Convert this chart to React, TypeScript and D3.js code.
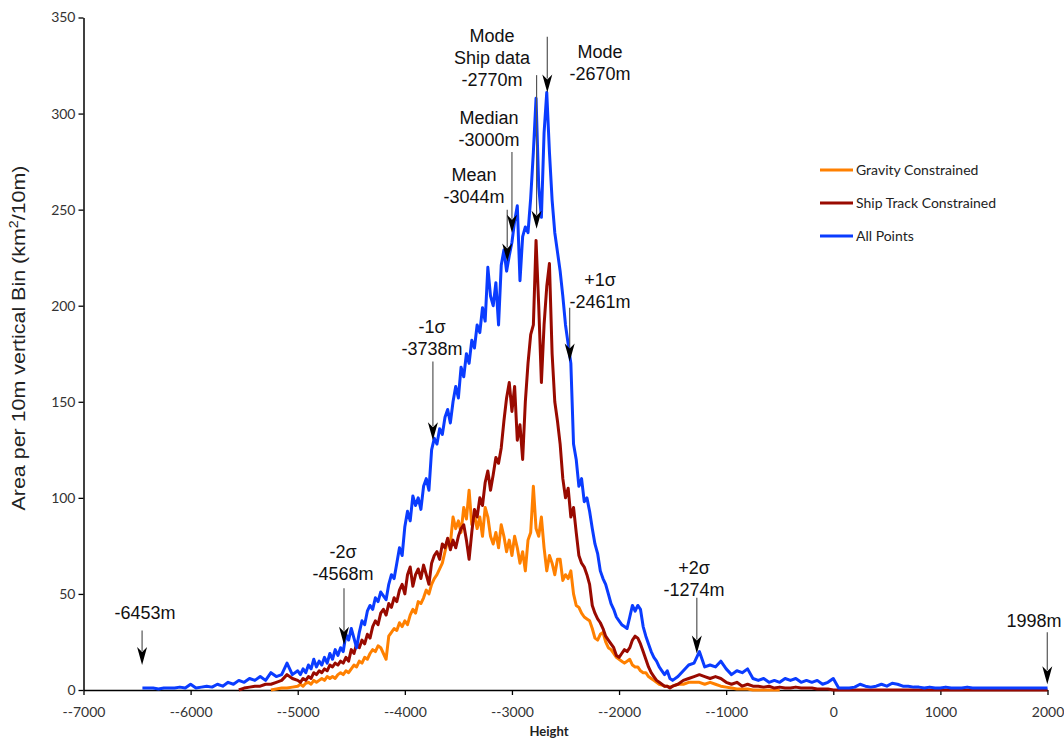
import * as d3 from "d3";
import { useEffect, useRef } from "react";

// height bins (m): coarse on the tails, 25m through the main peak
const binsA = d3.range(-6450, -5000, 50);
const binsB = d3.range(-5000, -1475, 25);
const binsC = d3.range(-1450, 2001, 50);
const heights = [...binsA, ...binsB, ...binsC];

const gravityA = [null,null,null,null,null,null,null,null,null,null,
  null,null,null,null,null,null,null,null,null,null,
  null,null,null,null,0,0.5,1,1,1.5];
const gravityB = [
  2,3,2,3.5,4,3,5,4,5,6,
  5,7,6,7,6,8,9,8,10,9,
  11,13,12,15,14,17,16,19,21,20,
  23,22,19,16,28,30,32,31,35,33,
  36,34,39,42,40,46,45,48,52,50,
  55,58,60,63,66,72,78,76,90,84,
  88,82,95,89,104,86,91,84,90,80,
  95,90,80,76,82,74,86,80,72,78,
  70,80,74,66,72,62,78,82,106,84,
  80,90,74,62,70,66,60,68,68,57,
  60,58,62,50,44,43,40,38,37,36,
  32,27,26,29,30,25,22,21,19,17,
  16,15,14,15,16,13,12,12,10,9,
  9,7,6,5,4,3,2.5,2,2,1.5,
  2];
const gravityC = [
  3,3,4,4,4,3,4,3,2,1.5,
  1,0.5,0.5,0.5,0,0,0,0,0,0,
  null,null,null,null,null,null,null,null,null,null,
  null,null,null,null,null,null,null,null,null,null,
  null,null,null,null,null,null,null,null,null,null,
  null,null,null,null,null,null,null,null,null,null,
  null,null,null,null,null,null,null,null,null,null];

const shipA = [null,null,null,null,null,null,null,null,null,null,
  null,null,null,null,null,null,null,null,0,1,
  1.5,2,2,3,3,4,5,8,6];
const shipB = [
  5,4,6,5,7,6,9,8,10,9,
  11,10,13,12,14,13,15,14,17,15,
  21,19,24,22,26,24,29,27,33,36,
  34,40,42,39,45,43,48,46,52,55,
  50,60,64,54,60,63,58,65,60,55,
  66,70,72,68,76,74,79,73,78,74,
  80,84,86,78,68,82,94,90,100,96,
  108,114,104,112,121,118,126,140,152,160,
  145,158,130,138,120,150,170,185,190,234,
  200,160,190,210,222,175,150,140,128,110,
  100,105,90,95,82,70,66,64,60,55,
  44,40,37,35,32,28,26,24,22,18,
  17,19,21,20,22,26,28,27,24,20,
  16,12,9,7,5,4,3,2,2,1,
  2];
const shipC = [
  3,5,6,7,8,7,6,7,6,4,
  3,4,2,3,2,2,1.5,2,1,1.5,
  1,1,1.5,1,1,1,0.5,0.5,0.5,0,
  0,0,0,0,0,0,0,0,0,0,
  0,0,0,0,0,0,0,0,0,0,
  0,0,0,0,0,0,0,0,0,0,
  0,0,0,0,0,0,0,0,0,0];

const allA = [1,1,1,0.5,1,1,1,1.5,1,3,
  1,1.5,2,1.5,3,2,4,3,5,4,
  6,5,7,5,9,7,8,14,8];
const allB = [
  10,8,11,9,13,11,16,12,15,13,
  17,14,19,16,21,18,22,20,29,26,
  32,27,22,30,36,34,41,44,42,48,
  46,51,49,47,55,60,58,66,74,70,
  85,93,88,101,96,100,94,106,110,104,
  125,131,128,136,133,142,146,139,150,158,
  152,168,163,175,170,182,178,190,186,199,
  192,220,205,200,212,190,221,229,218,226,
  233,244,252,213,236,241,238,256,280,308,
  262,246,290,311,280,255,238,228,218,205,
  190,180,170,128,120,106,110,98,100,93,
  84,76,71,62,58,55,50,45,42,38,
  36,34,33,32,38,44,41,44,42,33,
  28,24,20,17,15,12,10,8,10,6,
  5];
const allC = [
  7,10,13,14,20,12,13,12,15,11,
  8,10,9,11,6,5,6,4,5,4,
  6,5,6,4,5,4,5,3,4,6,
  1,1,1,1.5,3,2,1.5,2,3,2,
  3.5,3,2,2,1.5,1.5,1,1.5,1,1,
  1.5,1,1,1,1.5,1,1,1,1,1,
  1,1,1,1,1,1,1,1,1,1];

const gravity = [...gravityA, ...gravityB, ...gravityC];
const ship = [...shipA, ...shipB, ...shipC];
const allPoints = [...allA, ...allB, ...allC];

const seriesNames = ["Gravity Constrained", "Ship Track Constrained", "All Points"];
const seriesColors = ["#ff8000", "#990a00", "#0a3cff"];
const seriesValues = [gravity, ship, allPoints];

const xTicks = [-7000, -6000, -5000, -4000, -3000, -2000, -1000, 0, 1000, 2000];
const xTickLabels = ["--7000", "--6000", "--5000", "--4000", "--3000", "--2000", "--1000", "0", "1000", "2000"];
const yTicks = [0, 50, 100, 150, 200, 250, 300, 350];

// annotated heights and their labels
const markHeights = [-6453, -4568, -3738, -3044, -3000, -2770, -2670, -2461, -1274, 1998];
const markLabels = [
  ["-6453m"],
  ["-2σ", "-4568m"],
  ["-1σ", "-3738m"],
  ["Mean", "-3044m"],
  ["Median", "-3000m"],
  ["Mode", "Ship data", "-2770m"],
  ["Mode", "-2670m"],
  ["+1σ", "-2461m"],
  ["+2σ", "-1274m"],
  ["1998m"],
];
// arrow start / tip (in y units) and label anchor (px)
const markLayout = [
  { from: 31, to: 13, cx: 145, ty: 619 },
  { from: 53, to: 23.5, cx: 343, ty: 558 },
  { from: 171, to: 130, cx: 432, ty: 333 },
  { from: 250, to: 223, cx: 474, ty: 181 },
  { from: 280, to: 238, cx: 489, ty: 124 },
  { from: 320, to: 240, cx: 492, ty: 42 },
  { from: 340, to: 311, cx: 600, ty: 58 },
  { from: 199, to: 171, cx: 600, ty: 286 },
  { from: 48, to: 19, cx: 694, ty: 574 },
  { from: 30, to: 3, cx: 1034, ty: 627 },
];

const App = () => {
  const svgRef = useRef(null);

  useEffect(() => {
    const w = 1064;
    const h = 738;
    const svg = d3.select(svgRef.current).attr("width", w).attr("height", h);
    svg.selectAll("*").remove();

    const x = d3.scaleLinear().domain([-7000, 2000]).range([83.5, 1047.5]);
    const y = d3.scaleLinear().domain([0, 350]).range([690, 17.5]);

    const tickFont = "Lato, 'Open Sans', sans-serif";

    // axes
    const yAxis = d3.axisLeft(y).tickValues(yTicks).tickSize(5).tickSizeOuter(0).tickPadding(3);
    const gy = svg.append("g").attr("transform", "translate(83.5,0)").call(yAxis);
    gy.attr("font-family", tickFont).attr("font-size", 14);
    gy.select(".domain").attr("stroke", "#000").attr("stroke-width", 1.5);
    gy.selectAll(".tick line").attr("stroke", "#000").attr("stroke-width", 1.3);
    gy.selectAll(".tick text").attr("fill", "#333");

    const xAxis = d3.axisBottom(x).tickValues(xTicks).tickSize(5).tickSizeOuter(0).tickPadding(12)
      .tickFormat((d, i) => xTickLabels[i]);
    const gx = svg.append("g").attr("transform", "translate(0,690)").call(xAxis);
    gx.attr("font-family", tickFont).attr("font-size", 14);
    gx.select(".domain").attr("stroke", "#000").attr("stroke-width", 1.5);
    gx.selectAll(".tick line").attr("stroke", "#000").attr("stroke-width", 1.3);
    gx.selectAll(".tick text").attr("fill", "#333");

    svg.append("text")
      .attr("x", 549).attr("y", 736)
      .attr("text-anchor", "middle")
      .attr("font-family", tickFont).attr("font-weight", "bold").attr("font-size", 13)
      .attr("fill", "#222")
      .text("Height");

    const yt = svg.append("text")
      .attr("transform", "translate(25,338) rotate(-90)")
      .attr("text-anchor", "middle")
      .attr("font-family", "'Liberation Sans', Arial, sans-serif").attr("font-size", 18)
      .attr("textLength", 345).attr("lengthAdjust", "spacingAndGlyphs")
      .attr("fill", "#222");
    yt.append("tspan").text("Area per 10m vertical Bin (km");
    yt.append("tspan").attr("dy", -7).attr("font-size", 12).text("2");
    yt.append("tspan").attr("dy", 7).text("/10m)");

    // series
    const line = d3.line()
      .defined((d) => d[1] != null)
      .x((d) => x(d[0]))
      .y((d) => y(d[1]))
      .curve(d3.curveLinear);

    seriesValues.forEach((vals, k) => {
      const pts = heights.map((hh, i) => [hh, vals[i]]);
      svg.append("path")
        .datum(pts)
        .attr("d", line)
        .attr("fill", "none")
        .attr("stroke", seriesColors[k])
        .attr("stroke-width", 3)
        .attr("stroke-linejoin", "round");
    });

    // legend
    const lg = svg.append("g").attr("font-family", tickFont).attr("font-size", 14);
    seriesNames.forEach((name, k) => {
      const ly = 170 + k * 33;
      lg.append("line").attr("x1", 820).attr("x2", 853).attr("y1", ly).attr("y2", ly)
        .attr("stroke", seriesColors[k]).attr("stroke-width", 3);
      lg.append("text").attr("x", 856).attr("y", ly + 5).attr("fill", "#222").text(name);
    });

    // annotations
    const ann = svg.append("g");
    markHeights.forEach((mh, k) => {
      const lay = markLayout[k];
      const ax = x(mh);
      const y0 = y(lay.from);
      const y1 = y(lay.to);
      const headLen = 18;
      const headW = 5;
      ann.append("line")
        .attr("x1", ax).attr("x2", ax).attr("y1", y0).attr("y2", y1 - headLen + 4)
        .attr("stroke", "#555").attr("stroke-width", 1.2);
      ann.append("path")
        .attr("d", `M${ax},${y1} L${ax - headW},${y1 - headLen} L${ax},${y1 - headLen + 5} L${ax + headW},${y1 - headLen} Z`)
        .attr("fill", "#000");
      const t = ann.append("text")
        .attr("text-anchor", "middle")
        .attr("font-family", "'Liberation Sans', Arial, sans-serif")
        .attr("font-size", 18)
        .attr("fill", "#111");
      markLabels[k].forEach((s, j) => {
        t.append("tspan").attr("x", lay.cx).attr("y", lay.ty + j * 22).text(s);
      });
    });
  }, []);

  return (
    <svg ref={svgRef} style={{ position: "absolute", left: 0, top: 0, background: "#fff" }}></svg>
  );
};

export default App;
